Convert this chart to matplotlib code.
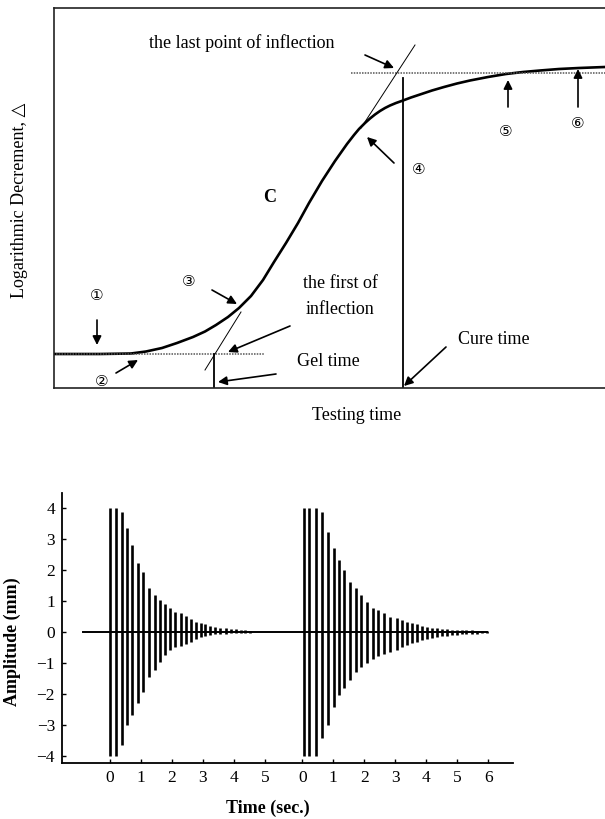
import numpy as np
import matplotlib
matplotlib.use('Agg')
import matplotlib.pyplot as plt

plt.rcParams['font.family'] = ['Liberation Serif', 'DejaVu Sans', 'Noto Sans CJK JP']

# ---- top panel: cure curve, arbitrary units ----
test_time = [0, 46, 77, 92, 108, 123, 139, 151, 162, 174, 185, 197, 209, 220,
             232, 244, 255, 268, 281, 293, 300, 305, 311, 316, 321, 326, 331,
             336, 342, 349, 357, 366, 378, 390, 403, 416, 434, 452, 469, 486,
             505, 525, 551]
log_decrement = [34, 34, 34.5, 36.5, 40, 45, 51, 56.5, 63, 71, 80, 92, 108, 126,
                 145, 165, 185, 207, 227, 244, 253, 259, 265, 269.5, 273.5, 277, 280,
                 282.5, 285, 287.5, 290.5, 293.5, 297.5, 301, 304.5, 307.5, 311, 314,
                 316, 317.5, 319, 320, 321]

base_level = 34
plateau_level = 315
base_span = [2, 210]
plateau_span = [297, 551]
gel_time = 160
cure_time = 349
cure_line_top = 310
lower_tangent_t = [151, 187]
lower_tangent_v = [18, 76]
upper_tangent_t = [307, 361]
upper_tangent_v = [260, 343]

# ---- bottom panel: free-decay bursts (peak per cycle) ----
b1_t = [-0.01, 0.20, 0.39, 0.56, 0.71, 0.90, 1.08, 1.25, 1.44, 1.61, 1.77, 1.94,
        2.10, 2.28, 2.45, 2.61, 2.77, 2.92, 3.08, 3.24, 3.40, 3.56, 3.73, 3.89,
        4.05, 4.21, 4.37, 4.53]
b1_top = [4.0, 4.0, 3.88, 3.35, 2.8, 2.22, 1.95, 1.41, 1.19, 1.03, 0.89, 0.77,
          0.66, 0.6, 0.5, 0.41, 0.33, 0.3, 0.25, 0.19, 0.17, 0.14, 0.12, 0.1,
          0.09, 0.07, 0.06, 0.04]
b1_bot = [-4.0, -4.0, -3.65, -3.0, -2.68, -2.3, -1.93, -1.45, -1.23, -0.97, -0.74, -0.58,
          -0.5, -0.45, -0.4, -0.31, -0.24, -0.17, -0.13, -0.1, -0.07, -0.06, -0.05, -0.04,
          -0.03, -0.03, -0.02, -0.02]

b2_t = [0.05, 0.23, 0.45, 0.64, 0.82, 1.01, 1.18, 1.36, 1.54, 1.74, 1.91, 2.10,
        2.27, 2.46, 2.64, 2.83, 3.05, 3.21, 3.37, 3.53, 3.70, 3.86, 4.02, 4.18,
        4.34, 4.50, 4.66, 4.82, 4.98, 5.14, 5.30, 5.47, 5.63, 5.79, 5.95]
b2_top = [4.0, 4.0, 4.0, 3.88, 3.24, 2.7, 2.32, 2.0, 1.62, 1.43, 1.19, 0.98,
          0.78, 0.71, 0.6, 0.49, 0.44, 0.39, 0.33, 0.28, 0.25, 0.19, 0.17, 0.14,
          0.12, 0.1, 0.09, 0.08, 0.06, 0.06, 0.05, 0.05, 0.04, 0.04, 0.03]
b2_bot = [-4.0, -4.0, -4.0, -3.43, -3.0, -2.41, -2.03, -1.82, -1.55, -1.28, -1.12, -1.0,
          -0.88, -0.78, -0.7, -0.63, -0.58, -0.5, -0.43, -0.37, -0.31, -0.26, -0.22, -0.19,
          -0.16, -0.14, -0.12, -0.1, -0.09, -0.08, -0.07, -0.06, -0.05, -0.04, -0.04]

trace_start = -0.87
burst2_offset = 6.2
y_ticks = [-4, -3, -2, -1, 0, 1, 2, 3, 4]
x_tick_labels = ['0', '1', '2', '3', '4', '5', '0', '1', '2', '3', '4', '5', '6']

fig = plt.figure(figsize=(6.05, 8.19), dpi=100)

# ---------------- top panel ----------------
ax1 = fig.add_axes([54 / 605, 1 - 388 / 819, 551 / 605, 380 / 819])
ax1.set_xlim(0, 551)
ax1.set_ylim(0, 380)
ax1.set_xticks([])
ax1.set_yticks([])
ax1.spines['right'].set_visible(False)
for s in ['left', 'top', 'bottom']:
    ax1.spines[s].set_linewidth(1.2)
    ax1.spines[s].set_color('#222222')

ax1.plot(test_time, log_decrement, color='black', lw=1.9,
         solid_capstyle='round', solid_joinstyle='round')
ax1.plot(base_span, [base_level, base_level], color='#555555', lw=1.1, ls=(0, (1, 0.8)))
ax1.plot(plateau_span, [plateau_level, plateau_level], color='#555555', lw=1.1, ls=(0, (1, 0.8)))
ax1.plot(lower_tangent_t, lower_tangent_v, color='black', lw=0.7)
ax1.plot(upper_tangent_t, upper_tangent_v, color='black', lw=0.7)
ax1.plot([gel_time, gel_time], [0, base_level], color='black', lw=1.3)
ax1.plot([cure_time, cure_time], [0, cure_line_top], color='black', lw=1.3)

txt = dict(fontsize=13, ha='center', va='center')
circ = dict(fontsize=11, ha='center', va='center')
ax1.text(188, 345, 'the last point of inflection', **txt)
ax1.text(216, 191, 'C', fontsize=13, fontweight='bold', ha='center', va='center')
ax1.text(286, 105, 'the first of', **txt)
ax1.text(286, 78, 'inflection', **txt)
ax1.text(274, 26, 'Gel time', **txt)
ax1.text(440, 48, 'Cure time', **txt)
ax1.text(303, -27, 'Testing time', clip_on=False, **txt)
ax1.text(-34, 188, 'Logarithmic Decrement, \u25b3', rotation=90, clip_on=False, **txt)

ax1.text(43, 91, '\u2460', **circ)
ax1.text(48, 6, '\u2461', **circ)
ax1.text(135, 106, '\u2462', **circ)
ax1.text(365, 218, '\u2463', **circ)
ax1.text(452, 255, '\u2464', **circ)
ax1.text(524, 263, '\u2465', **circ)

arrows = [
    ((311, 333), (340, 320)),   # last point of inflection
    ((340, 225), (313, 251)),   # 4
    ((454, 281), (454, 308)),   # 5
    ((524, 281), (524, 319)),   # 6
    ((158, 98), (183, 84)),     # 3
    ((236, 62), (174, 36)),     # first of inflection
    ((43, 68), (43, 43)),       # 1
    ((62, 15), (84, 28)),       # 2
    ((222, 14), (164, 6)),      # gel time
    ((392, 41), (350, 2)),      # cure time
]
for tail, head in arrows:
    ax1.annotate('', xy=head, xytext=tail,
                 arrowprops=dict(arrowstyle='-|>', mutation_scale=13, lw=1.2,
                                 color='black', shrinkA=0, shrinkB=0))

# ---------------- bottom panel ----------------
ax2 = fig.add_axes([62 / 605, 1 - 763 / 819, 451 / 605, 270 / 819])
ax2.set_xlim(-1.548, 13.0)
ax2.set_ylim(-4.226, 4.484)
for s in ['top', 'right']:
    ax2.spines[s].set_visible(False)
for s in ['left', 'bottom']:
    ax2.spines[s].set_linewidth(1.3)

b2_t_abs = [burst2_offset + t for t in b2_t]
ax2.plot([trace_start, b1_t[0], b1_t[-1], b2_t_abs[0], b2_t_abs[-1]],
         [0, 0, 0, 0, 0], color='black', lw=1.4)
ax2.vlines(b1_t, b1_bot, b1_top, color='black', lw=1.9)
ax2.vlines(b2_t_abs, b2_bot, b2_top, color='black', lw=1.9)

ax2.set_yticks(y_ticks)
ax2.set_yticklabels([f'{v}'.replace('-', '\u2212') for v in y_ticks])
x_ticks = list(range(6)) + [burst2_offset + k for k in range(7)]
ax2.set_xticks(x_ticks)
ax2.set_xticklabels(x_tick_labels)
ax2.tick_params(direction='in', length=3, width=1, labelsize=12.5, pad=5)

ax2.text(-0.109, 0.45, 'Amplitude (mm)', rotation=90, fontsize=13, fontweight='bold',
         ha='center', va='center', transform=ax2.transAxes)
ax2.text(0.457, -0.167, 'Time (sec.)', fontsize=13, fontweight='bold',
         ha='center', va='center', transform=ax2.transAxes)

fig.savefig('out.png', dpi=100)
